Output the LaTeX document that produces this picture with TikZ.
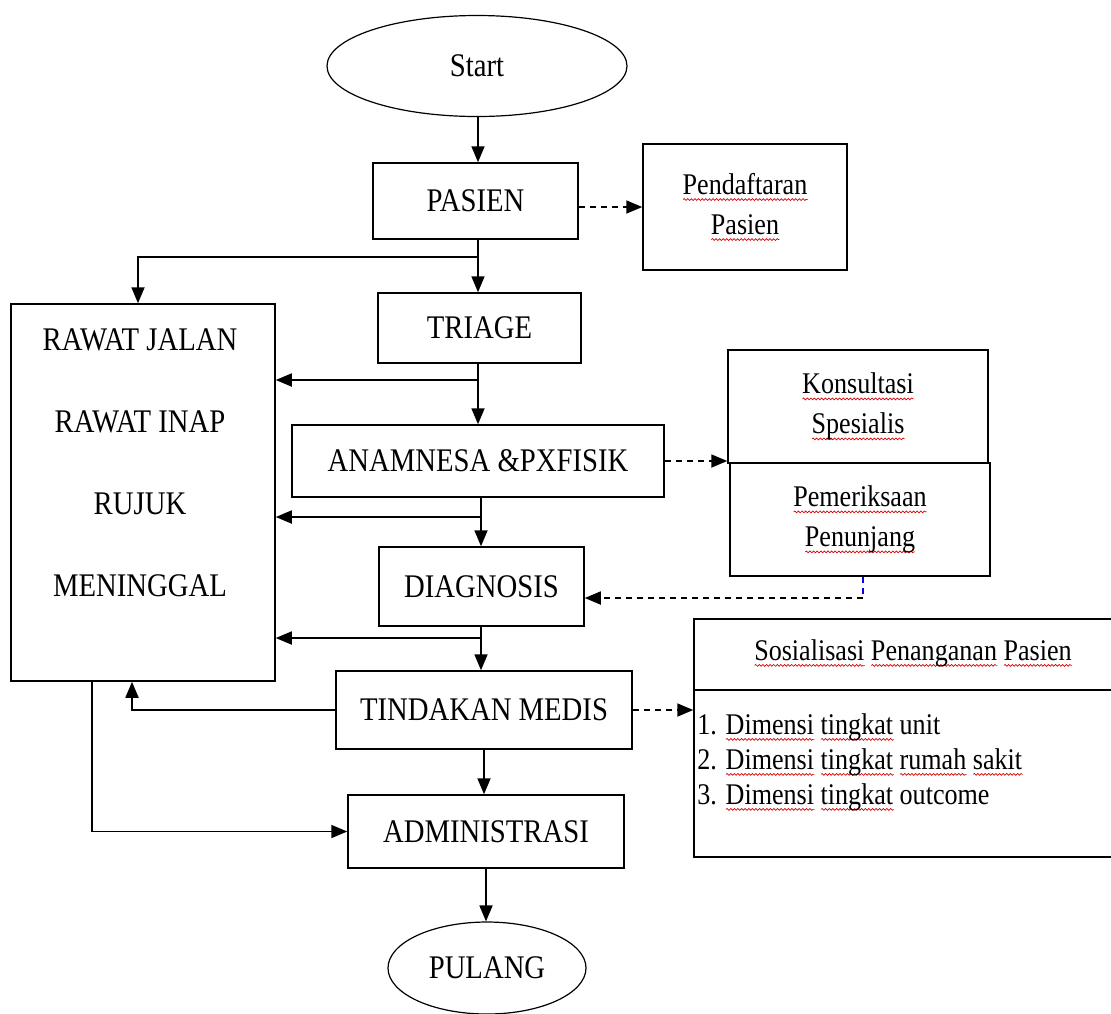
\documentclass[tikz,border=0pt]{standalone}
\usepackage{fontspec}
\setmainfont[FakeStretch=0.87]{Liberation Serif}
\usetikzlibrary{arrows.meta,shapes.geometric,decorations.pathmorphing}
\newbox\splbox
\newcommand\spl[1]{\leavevmode\setbox\splbox\hbox{#1}\rlap{\tikz[baseline=0pt,x=1pt,y=1pt]\draw[red!85!black, line width=0.35pt, decorate, decoration={snake, amplitude=0.45pt, segment length=1.8pt}] (0pt,-2.6pt) -- (\wd\splbox,-2.6pt);}\box\splbox}
\begin{document}
\begin{tikzpicture}[x=0.5pt,y=-0.5pt,
  box/.style={draw, line width=0.75pt, inner sep=0pt},
  big/.style={font=\fontsize{16.5}{20}\selectfont},
  small/.style={font=\fontsize{15}{20}\selectfont},
  arr/.style={line width=0.9pt, -{Triangle[length=8pt,width=6.5pt]}},
  darr/.style={line width=0.9pt, dash pattern=on 3pt off 2.5pt, -{Triangle[length=8pt,width=6.5pt]}},
  ov/.style={draw, ellipse, line width=0.6pt, inner sep=0pt}]
\useasboundingbox (0,0) rectangle (1111,1013);

% terminals
\node[ov, big, minimum width=150pt, minimum height=50.5pt] (start) at (477,66) {Start};
\node[ov, big, minimum width=99pt, minimum height=46pt] (pulang) at (487,968) {PULANG};

% main boxes
\node[box, big, minimum width=102.5pt, minimum height=38pt] (pasien) at (475.5,201) {PASIEN};
\node[box, small, align=center, minimum width=102pt, minimum height=63pt] (pend) at (745,207) {\spl{Pendaftaran}\\\spl{Pasien}};
\node[box, big, minimum width=101.5pt, minimum height=35pt] (triage) at (479.5,328) {TRIAGE};
\node[box, big, minimum width=186pt, minimum height=36pt] (anam) at (478,461) {ANAMNESA \&PXFISIK};
\node[box, big, minimum width=102.5pt, minimum height=39.5pt] (diag) at (481.5,586.5) {DIAGNOSIS};
\node[box, big, minimum width=148pt, minimum height=39pt] (tind) at (484,710) {TINDAKAN MEDIS};
\node[box, big, minimum width=138pt, minimum height=36.5pt] (admin) at (486,831.5) {ADMINISTRASI};
\node[box, minimum width=132pt, minimum height=188.5pt] (rawat) at (143,492.5) {};
\node[align=center, inner sep=0pt, font=\fontsize{16.5}{41}\selectfont] (rawattext) at (140,463) {RAWAT JALAN\\RAWAT INAP\\RUJUK\\MENINGGAL};
\node[box, small, align=center, minimum width=130pt, minimum height=56.5pt] (kons) at (858,406.5) {\spl{Konsultasi}\\\spl{Spesialis}};
\node[box, small, align=center, minimum width=130pt, minimum height=56.5pt] (pem) at (860,519.5) {\spl{Pemeriksaan}\\\spl{Penunjang}};

% sosialisasi box
\node[box, minimum width=209.5pt, minimum height=119pt] (sos) at (903.5,738) {};
\coordinate (sdiv) at (900,690);
\draw[line width=0.75pt] (sos.west |- sdiv) -- (sos.east |- sdiv);
\node[small, inner sep=0pt] (sostitle) at (913,653) {\spl{Sosialisasi} \spl{Penanganan} \spl{Pasien}};
\node[inner sep=0pt, anchor=west, align=left, font=\fontsize{15}{17.5}\selectfont] (soslist) at (697,762)
  {1. \spl{Dimensi} \spl{tingkat} unit\\2. \spl{Dimensi} \spl{tingkat} \spl{rumah} \spl{sakit}\\3. \spl{Dimensi} \spl{tingkat} outcome};

% junction coordinates
\coordinate (j1) at (478,257);
\coordinate (j2) at (478,380);
\coordinate (j3) at (481,517);
\coordinate (j4) at (481,638);
\coordinate (c5) at (863,598);

% solid connectors
\draw[arr] (start.south -| j1) -- (j1 |- pasien.north);
\draw[line width=0.9pt] (pasien.south -| j1) -- (j1);
\draw[arr] (j1) -- (j1 |- triage.north);
\draw[arr] (j1) -| ([xshift=-2.5pt]rawat.north);

\draw[line width=0.9pt] (triage.south -| j2) -- (j2);
\draw[arr] (j2) -- (j2 |- anam.north);
\draw[arr] (j2) -- (j2 -| rawat.east);

\draw[line width=0.9pt] (anam.south -| j3) -- (j3);
\draw[arr] (j3) -- (j3 |- diag.north);
\draw[arr] (j3) -- (j3 -| rawat.east);

\draw[line width=0.9pt] (diag.south -| j4) -- (j4);
\draw[arr] (j4) -- (j4 |- tind.north);
\draw[arr] (j4) -- (j4 -| rawat.east);

\draw[arr] (tind.south) -- (tind.south |- admin.north);
\draw[arr] (admin.south) -- (admin.south |- pulang.north);

\draw[arr] (tind.west) -| ([xshift=-5.5pt]rawat.south);
\draw[arr] ([xshift=-25.5pt]rawat.south) |- (admin.west);

% dashed connectors
\draw[darr] (pend.west -| pasien.east) -- (pend.west);
\draw[darr] (anam.east) -- (anam.east -| kons.west);
\draw[line width=0.9pt, dash pattern=on 3pt off 2.5pt, blue] (pem.south -| c5) -- (c5);
\draw[darr] (c5) -- (c5 -| diag.east);
\draw[darr] (tind.east) -- (tind.east -| sos.west);
\end{tikzpicture}
\end{document}
